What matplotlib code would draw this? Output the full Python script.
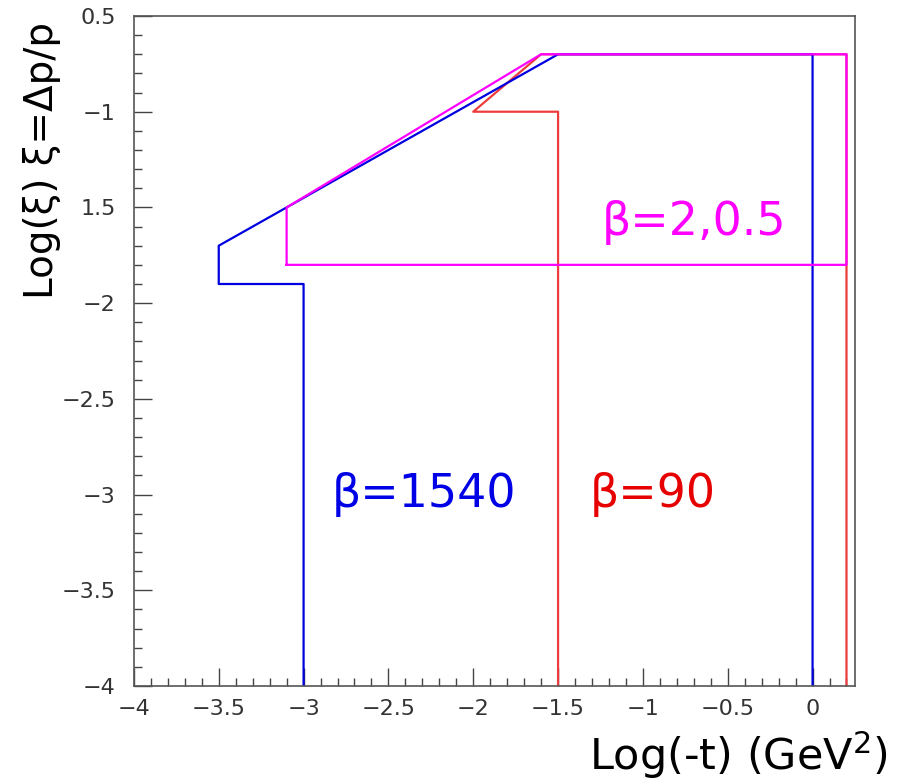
import numpy as np
import matplotlib
matplotlib.use("Agg")
import matplotlib.pyplot as plt

# acceptance contours, log10(-t) vs log10(xi)
beta1540_t  = [-3.0, -3.0, -3.5, -3.5, -1.5, 0.0, 0.0]
beta1540_xi = [-4.0, -1.9, -1.9, -1.7, -0.7, -0.7, -4.0]

beta90_t  = [-1.5, -1.5, -2.0, -1.6, 0.2, 0.2]
beta90_xi = [-4.0, -1.0, -1.0, -0.7, -0.7, -4.0]

beta2_t  = [-3.1, -3.1, -1.6, 0.2, 0.2, -3.1]
beta2_xi = [-1.8, -1.5, -0.7, -0.7, -1.8, -1.8]

labels = ["\u03b2=1540", "\u03b2=90", "\u03b2=2,0.5"]
label_pos = [(-2.29, -3.0), (-0.94, -3.0), (-0.70, -1.58)]

xticks = [-4, -3.5, -3, -2.5, -2, -1.5, -1, -0.5, 0]
xticklabels = ["\u22124", "\u22123.5", "\u22123", "\u22122.5", "\u22122", "\u22121.5", "\u22121", "\u22120.5", "0"]
yticks = [-4, -3.5, -3, -2.5, -2, -1.5, -1, -0.5]
yticklabels = ["\u22124", "\u22123.5", "\u22123", "\u22122.5", "\u22122", "1.5", "\u22121", "0.5"]

blue = "#0000e0"
red = "#ee3b3b"
mag = "#ff00ff"

fig = plt.figure(figsize=(9.11, 7.80), dpi=100)
ax = fig.add_axes([0.147, 0.1205, 0.7915, 0.859])

ax.plot(beta90_t, beta90_xi, color=red, lw=1.6)
ax.plot(beta1540_t, beta1540_xi, color=blue, lw=1.6)
ax.plot(beta2_t, beta2_xi, color=mag, lw=1.6)

ax.text(*label_pos[0], labels[0], color="#0000e6", fontsize=33, ha="center", va="center")
ax.text(*label_pos[1], labels[1], color="#e60000", fontsize=33, ha="center", va="center")
ax.text(*label_pos[2], labels[2], color=mag, fontsize=33, ha="center", va="center")

ax.set_xlim(-4, 0.25)
ax.set_ylim(-4, -0.5)

ax.set_xticks(xticks)
ax.set_xticklabels(xticklabels)
ax.set_yticks(yticks)
ax.set_yticklabels(yticklabels)
ax.set_xticks(np.arange(-4, 0.25, 0.1), minor=True)
ax.set_yticks(np.arange(-4, -0.45, 0.1), minor=True)

for lab in ax.get_xticklabels() + ax.get_yticklabels():
    lab.set_fontsize(16)
    lab.set_color("#333333")

ax.tick_params(which="both", direction="in", top=False, right=False, color="#444444")
ax.tick_params(which="major", length=13, width=1)
ax.tick_params(which="minor", length=6, width=1)
ax.tick_params(axis="x", pad=9)
ax.tick_params(axis="y", pad=13)

for sp in ax.spines.values():
    sp.set_color("#555555")
    sp.set_linewidth(1.2)

fig.text(888 / 911, 1 - 755 / 780, "Log(-t) (GeV$^2$)", fontsize=31,
         ha="right", va="center")
fig.text(42 / 911, 1 - 22 / 780, "Log(\u03be) \u03be=\u0394p/p", fontsize=28,
         rotation=90, ha="center", va="top")

fig.savefig("out.png", dpi=100)
